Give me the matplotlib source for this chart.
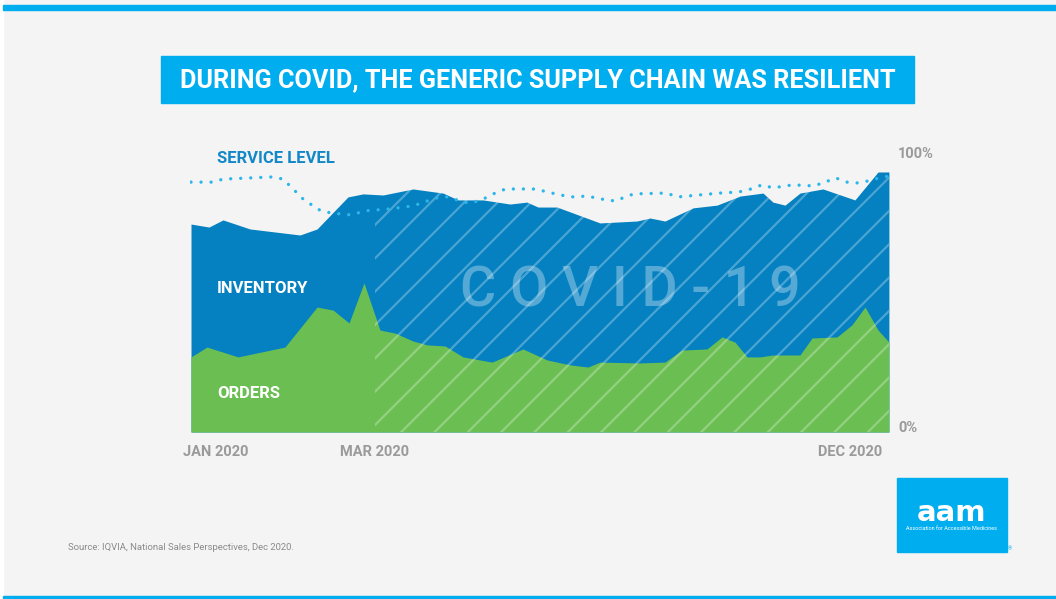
import matplotlib
matplotlib.use("Agg")
import matplotlib.pyplot as plt
from matplotlib.patches import Rectangle

plt.rcParams['font.family'] = ['Roboto', 'DejaVu Sans']
plt.rcParams['hatch.linewidth'] = 1.6

# data (x in weeks of 2020, y in % of scale)
inv_weeks = [0.0, 1.34, 2.38, 4.39, 8.11, 9.38, 11.68, 12.80, 14.29, 16.52, 18.75,
             19.87, 21.73, 23.74, 25.0, 25.82, 27.23, 30.43, 33.18, 34.15, 35.27,
             37.35, 39.14, 40.85, 42.56, 43.30, 44.20, 45.31, 47.02, 49.40, 51.12, 51.93]
inventory = [75.9, 74.8, 77.4, 74.1, 71.9, 74.1, 85.8, 86.9, 86.5, 88.7, 87.2,
             84.7, 84.7, 83.2, 83.9, 82.1, 82.1, 76.3, 77.0, 78.1, 77.0,
             81.8, 82.8, 86.1, 87.2, 83.9, 82.8, 87.2, 88.7, 84.7, 94.9, 94.9]

ord_weeks = [0.0, 1.19, 3.50, 6.99, 9.38, 10.57, 11.76, 12.87, 14.06, 15.18, 16.52,
             17.56, 18.90, 20.24, 22.40, 24.70, 26.49, 28.2, 29.54, 30.43, 33.41,
             35.27, 36.53, 38.39, 39.51, 40.48, 41.37, 42.34, 43.30, 45.31, 46.21,
             48.07, 49.18, 50.15, 51.12, 51.93]
orders = [27.4, 31.0, 27.4, 31.0, 45.6, 44.5, 39.8, 54.4, 37.2, 36.1, 33.2,
          31.8, 31.4, 27.4, 25.5, 30.3, 26.3, 24.5, 23.7, 25.5, 25.2,
          25.5, 29.9, 30.3, 34.7, 32.8, 27.4, 27.4, 28.1, 28.1, 34.3,
          34.7, 39.1, 45.6, 37.2, 32.8]

svc_weeks = [0.0, 1.64, 2.38, 6.10, 6.85, 7.37, 8.41, 9.67, 10.49, 11.98, 12.87,
             14.73, 16.52, 18.23, 19.05, 19.79, 20.61, 21.35, 22.10, 22.77, 23.44,
             25.45, 26.19, 27.46, 28.42, 29.46, 30.88, 31.62, 32.29, 32.96, 35.34,
             36.24, 37.80, 39.36, 40.77, 41.67, 42.49, 43.30, 44.79, 46.35, 47.17,
             47.99, 48.81, 49.55, 50.37, 51.19, 51.93]
service = [91.2, 91.2, 92.3, 93.1, 92.3, 89.8, 84.7, 80.7, 79.9, 79.2, 80.7,
           81.4, 82.5, 85.4, 85.8, 84.7, 83.6, 84.3, 85.8, 87.6, 88.7,
           88.7, 88.0, 86.5, 85.8, 86.1, 84.7, 84.3, 85.8, 86.9, 87.2,
           85.8, 86.5, 87.2, 87.6, 88.7, 90.2, 89.1, 90.2, 89.8, 91.2,
           92.7, 91.2, 90.9, 91.6, 92.7, 93.4]

month_ticks = [1.86, 13.69, 49.03]
month_labels = ['JAN 2020', 'MAR 2020', 'DEC 2020']
covid_start = 13.69

CYAN = '#00aeef'
BLUE = '#0581c1'
GREEN = '#6bbf52'
DOTS = '#2db6e9'
GRAY = '#9a9a9a'

fig = plt.figure(figsize=(10.56, 5.99), dpi=100, facecolor='#f4f4f4')

# frame decoration
fig.patches.append(Rectangle((0, 0), 3 / 1056, 1, transform=fig.transFigure,
                             color='white', zorder=0))
fig.patches.append(Rectangle((3 / 1056, 1 - 10 / 599), 1, 5 / 599,
                             transform=fig.transFigure, color=CYAN, zorder=1))
fig.patches.append(Rectangle((3 / 1056, 0), 1, 3 / 599,
                             transform=fig.transFigure, color=CYAN, zorder=1))

# title box
fig.patches.append(Rectangle((161 / 1056, 1 - 103 / 599), 753 / 1056, 47 / 599,
                             transform=fig.transFigure, color=CYAN, zorder=1))
fig.text(537.5 / 1056, 1 - 80 / 599, 'DURING COVID, THE GENERIC SUPPLY CHAIN WAS RESILIENT',
         ha='center', va='center', color='white', fontsize=18.2, fontweight='bold')

ax = fig.add_axes([189.66 / 1056, 1 - 432 / 599, 700.2 / 1056, 274 / 599])
ax.set_facecolor('none')

ax.fill_between(inv_weeks, 0, inventory, color=BLUE, lw=0, zorder=2)
ax.fill_between(ord_weeks, 0, orders, color=GREEN, lw=0, zorder=3)

hatch = ax.fill_between(inv_weeks, 0, inventory, facecolor='none',
                        edgecolor=(1, 1, 1, 0.28), hatch='/', lw=0, zorder=4)
clip = Rectangle((covid_start, 0), 60, 120, transform=ax.transData)
hatch.set_clip_path(clip)

ax.plot(svc_weeks, service, color=DOTS, lw=2.4, linestyle=(0, (0.01, 3.0)),
        dash_capstyle='round', zorder=5)

ax.text(32.7, 51.5, 'C O V I D - 1 9', ha='center', va='center', fontsize=40,
        fontweight='medium', color=(1, 1, 1, 0.32), zorder=6)

ax.text(1.93, 99.7, 'SERVICE LEVEL', ha='left', va='center', fontsize=12,
        fontweight='bold', color='#1388c8', clip_on=False)
ax.text(1.93, 52.4, 'INVENTORY', ha='left', va='center', fontsize=12,
        fontweight='bold', color='white', zorder=7)
ax.text(1.93, 14.0, 'ORDERS', ha='left', va='center', fontsize=12,
        fontweight='bold', color='white', zorder=7)

ax.set_xlim(-0.1, 52.0)
ax.set_ylim(0, 100)
ax.set_xticks(month_ticks)
ax.set_xticklabels(month_labels, fontsize=10.5, fontweight='bold', color=GRAY)
ax.tick_params(axis='x', length=0, pad=9)
ax.yaxis.tick_right()
ax.set_yticks([0, 100])
ax.set_yticklabels(['0%', '100%'], fontsize=10.5, fontweight='bold', color=GRAY,
                   va='baseline')
ax.tick_params(axis='y', length=0, pad=6)
for s in ax.spines.values():
    s.set_visible(False)

# source note
fig.text(68 / 1056, 1 - 548 / 599, 'Source: IQVIA, National Sales Perspectives, Dec 2020.',
         ha='left', va='center', fontsize=6.8, color='#8a8a8a')

# logo
fig.patches.append(Rectangle((897 / 1056, 1 - 552 / 599), 110 / 1056, 74 / 599,
                             transform=fig.transFigure, color=CYAN, zorder=1))
fig.text(952 / 1056, 1 - 521 / 599, 'aam', ha='center', va='baseline', color='white',
         fontsize=21, fontweight='heavy', family='DejaVu Sans')
fig.text(952 / 1056, 1 - 528 / 599, 'Association for Accessible Medicines',
         ha='center', va='center', color='white', fontsize=4)
fig.text(1010 / 1056, 1 - 549 / 599, '®', ha='center', va='center', color=CYAN,
         fontsize=4)

fig.savefig('out.png', dpi=100, facecolor=fig.get_facecolor())
